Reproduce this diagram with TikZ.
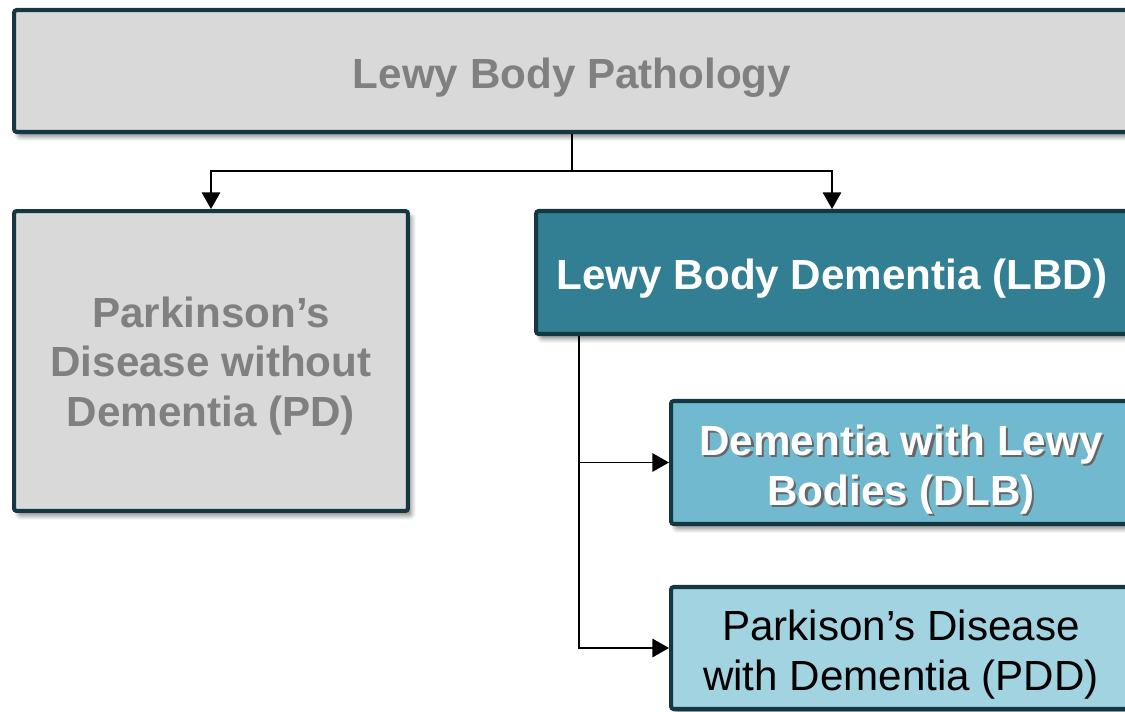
\documentclass[tikz,border=0pt]{standalone}
\usepackage{fontspec}
\setmainfont{Liberation Sans}
\usetikzlibrary{arrows.meta,shadows.blur}

\definecolor{edgeblue}{RGB}{21,55,65}
\definecolor{boxgray}{RGB}{217,217,217}
\definecolor{textgray}{RGB}{128,128,128}
\definecolor{lbdteal}{RGB}{50,126,147}
\definecolor{dlbblue}{RGB}{112,185,207}
\definecolor{pddblue}{RGB}{161,211,224}

\newcommand{\shadowed}[1]{\leavevmode\rlap{\kern1.2pt\raisebox{-1.2pt}{\textcolor{black!60}{#1}}}#1}
\newcommand{\stack}[1]{\begin{tabular}[t]{@{}c@{}}#1\end{tabular}}

\begin{document}
\begin{tikzpicture}[x=0.02cm, y=-0.02cm,
    box/.style={draw=edgeblue, line width=2.3pt, rounded corners=1.5pt,
        inner sep=0pt, text height=19.9pt,
        font=\fontsize{24}{28.4}\selectfont,
        blur shadow={shadow xshift=2.2pt, shadow yshift=-2.8pt, shadow blur radius=2.5pt, shadow opacity=45}},
    heavy/.style={font=\fontsize{24}{28.4}\selectfont\bfseries},
    link/.style={line width=1.1pt, -{Triangle[length=9.5pt,width=10.5pt]}}]
    \useasboundingbox (0,0) rectangle (1125,712);

    \node[box, heavy, fill=boxgray, text=textgray, text depth=0.4pt,
        minimum width=22.32cm, minimum height=2.44cm] (lbp) at (572,71) {Lewy Body Pathology};
    \node[box, heavy, fill=boxgray, text=textgray, text depth=58.5pt,
        minimum width=7.88cm, minimum height=6cm] (pd) at (211,361)
        {\stack{Parkinson’s\\Disease without\\Dementia (PD)}};
    \node[box, heavy, fill=lbdteal, text=white, text depth=0pt,
        minimum width=11.84cm, minimum height=2.46cm] (lbd) at (832,272.5)
        {Lewy Body Dementia (LBD)};
    \node[box, heavy, fill=dlbblue, text=white, text depth=28.1pt,
        minimum width=9.2cm, minimum height=2.46cm] (dlb) at (901,462.5)
        {\stack{\shadowed{Dementia with Lewy}\\\shadowed{Bodies (DLB)}}};
    \node[box, fill=pddblue, text=black, text depth=28.7pt,
        minimum width=9.2cm, minimum height=2.44cm] (pdd) at (901,648)
        {\stack{Parkison’s Disease\\with Dementia (PDD)}};

    % connectors
    \coordinate (split) at (572,171);
    \draw[line width=1.1pt] (lbp.south) -- (split);
    \draw[link] (split) -| (pd.north);
    \draw[link] (split) -| (lbd.north);
    \draw[link] ([xshift=0.9cm]lbd.south west) |- (dlb.west);
    \draw[link] ([xshift=0.9cm]lbd.south west) |- (pdd.west);
\end{tikzpicture}
\end{document}
